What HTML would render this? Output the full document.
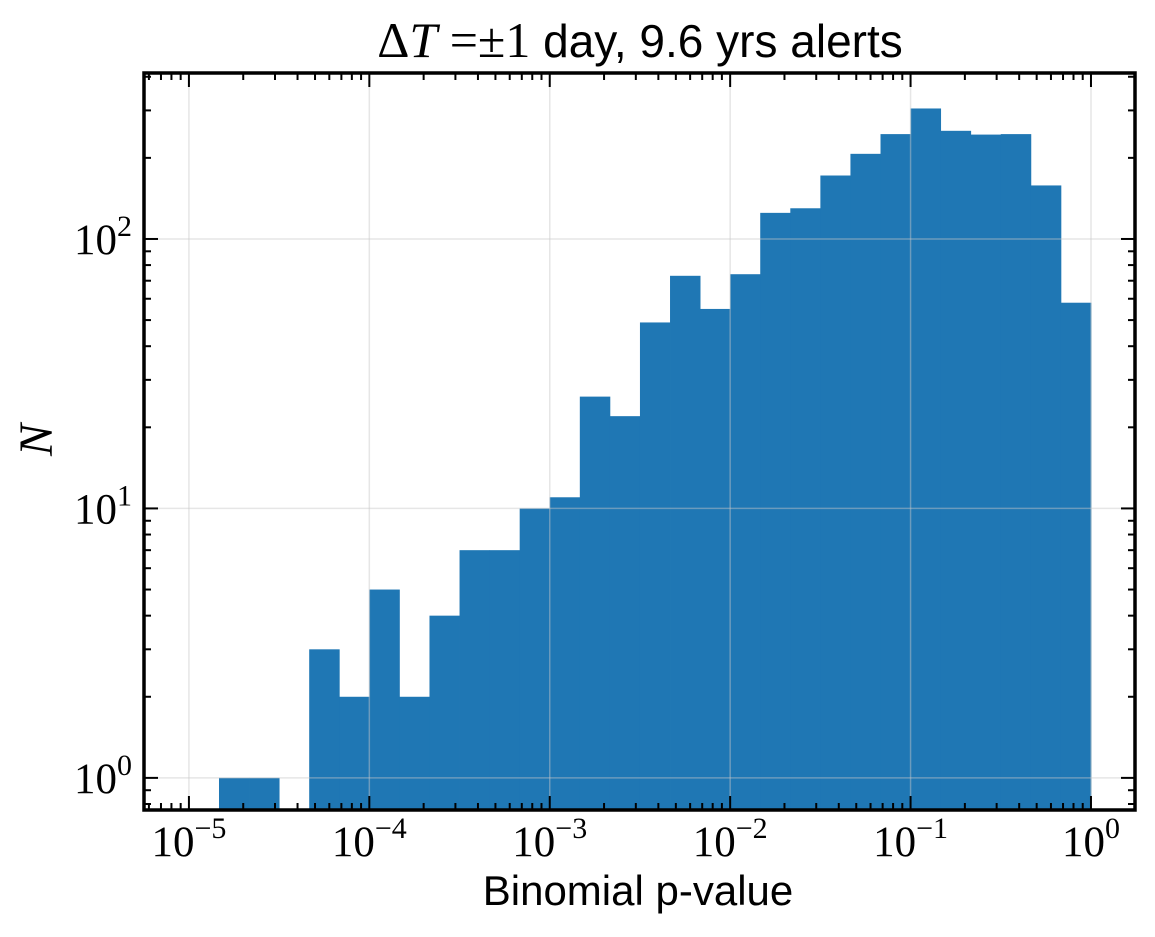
<!DOCTYPE html>
<html><head><meta charset="utf-8"><style>
body{margin:0;background:#fff;}
svg{display:block;}
.tl{font-family:"Liberation Serif",serif;font-size:43px;fill:#000;}
</style></head><body>
<svg id="chart" width="1155" height="937" xmlns="http://www.w3.org/2000/svg">
<text x="640" y="57" text-anchor="middle" style="font-family:'Liberation Sans',sans-serif;font-size:46px;"><tspan style="font-family:'Liberation Serif',serif;font-size:50px;">Δ<tspan font-style="italic">T</tspan> =±1</tspan> day, 9.6 yrs alerts</text>
<g id="grid"></g>
<g id="bars"></g>
<g id="ticks"></g>
<rect x="144" y="73" width="991" height="737" fill="none" stroke="#000" stroke-width="3.5"/>
<text x="638" y="905" text-anchor="middle" style="font-family:'Liberation Sans',sans-serif;font-size:42px;">Binomial p-value</text>
<text x="0" y="0" transform="translate(52,440) rotate(-90)" text-anchor="middle" style="font-family:'Liberation Serif',serif;font-style:italic;font-size:48px;">N</text>
</svg>
<script>
const binStartLog = -4.8333;
const binWidthLog = 1/6;
const counts = [1,1,0,3,2,5,2,4,7,7,10,11,26,22,49,73,55,74,125,130,172,207,245,305,252,244,245,158,58];
const xTickExps = [-5,-4,-3,-2,-1,0];
const yTickExps = [0,1,2];
const L=144,R=1135,T=73,B=810;
const xMin=-5.249,xMax=0.244,yMin=Math.log10(0.76),yMax=Math.log10(413);
const sx=v=>L+(v-xMin)/(xMax-xMin)*(R-L);
const sy=v=>B-(Math.log10(v)-yMin)/(yMax-yMin)*(B-T);
const NS="http://www.w3.org/2000/svg";
function mk(tag,attrs,parent){const e=document.createElementNS(NS,tag);for(const k in attrs)e.setAttribute(k,attrs[k]);parent.appendChild(e);return e;}
const grid=document.getElementById('grid'),bars=document.getElementById('bars'),ticks=document.getElementById('ticks');
counts.forEach((c,i)=>{if(c<=0)return;const x0=sx(binStartLog+i*binWidthLog),x1=sx(binStartLog+(i+1)*binWidthLog);
const r=mk('rect',{x:x0,y:sy(c),width:x1-x0+0.4,height:B-sy(c),fill:'#1f77b4'},bars);

});
bars.parentNode.insertBefore(bars,grid);
xTickExps.forEach(e=>{const l=mk('line',{x1:sx(e),x2:sx(e),y1:T,y2:B,stroke:'#c8c8c8','stroke-opacity':0.45,'stroke-width':1.5},grid);

});
yTickExps.forEach(e=>{const l=mk('line',{x1:L,x2:R,y1:sy(Math.pow(10,e)),y2:sy(Math.pow(10,e)),stroke:'#c8c8c8','stroke-opacity':0.45,'stroke-width':1.5},grid);

});
function tick(x,y,dx,dy){mk('line',{x1:x,y1:y,x2:x+dx,y2:y+dy,stroke:'#000','stroke-width':2},ticks);}
for(let e=-6;e<=0;e++){for(let m=1;m<10;m++){const v=e+Math.log10(m);if(v<xMin||v>xMax)continue;const x=sx(v),len=m===1?14:7;tick(x,B,0,-len);tick(x,T,0,len);}}
for(let e=-1;e<=3;e++){for(let m=1;m<10;m++){const val=m*Math.pow(10,e);const lv=Math.log10(val);if(lv<yMin||lv>yMax)continue;const y=sy(val),len=m===1?14:7;tick(L,y,len,0);tick(R,y,-len,0);}}
xTickExps.forEach((e,i)=>{const t=mk('text',{x:sx(e),y:856,'text-anchor':'middle',class:'tl'},ticks);
t.innerHTML='10<tspan dy="-18" font-size="30">'+(e<0?'−'+(-e):e)+'</tspan>';

});
yTickExps.forEach(e=>{const t=mk('text',{x:132,y:sy(Math.pow(10,e))+15,'text-anchor':'end',class:'tl'},ticks);
t.innerHTML='10<tspan dy="-18" font-size="30">'+e+'</tspan>';

});
</script>
</body></html>
